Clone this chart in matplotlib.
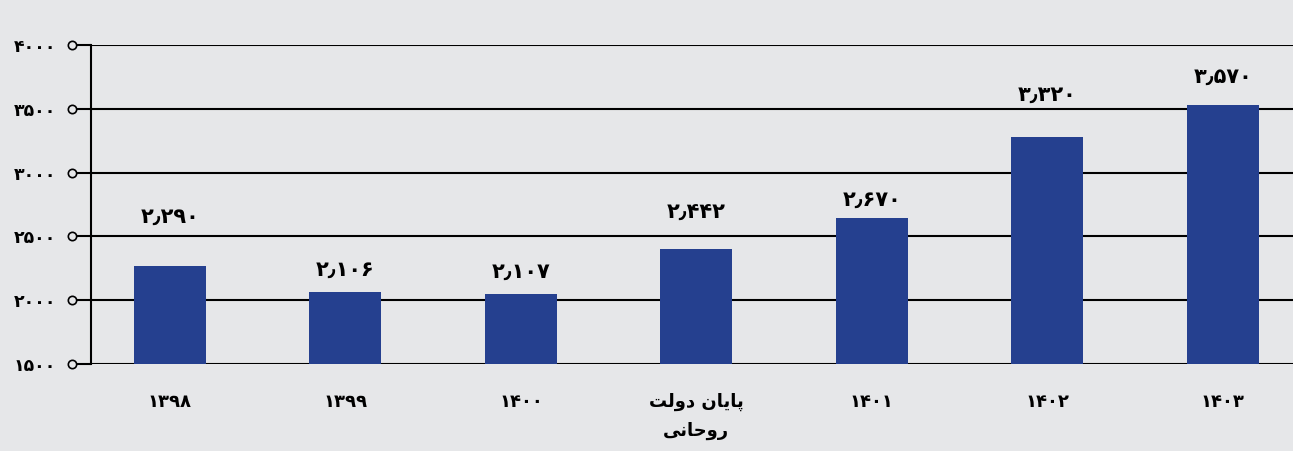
import numpy as np
import matplotlib.pyplot as plt

# data (Persian labels)
categories = ["۱۳۹۸", "۱۳۹۹", "۱۴۰۰",
              "\uFE96\uFEDF\uFEED\uFEA9 \uFEE5\uFE8E\uFBFE\uFE8E\uFB58\n\uFBFD\uFEE7\uFE8E\uFEA3\uFEED\uFEAD",
              "۱۴۰۱", "۱۴۰۲", "۱۴۰۳"]
bar_values = [2268, 2064, 2049, 2401, 2644, 3279, 3530]
value_labels = ["۲٫۲۹۰", "۲٫۱۰۶", "۲٫۱۰۷", "۲٫۴۴۲", "۲٫۶۷۰", "۳٫۳۲۰", "۳٫۵۷۰"]
label_offsets = [28, 9, 9, 19, 6, 23, 13]  # points above bar top
yticks = [1500, 2000, 2500, 3000, 3500, 4000]
ytick_labels = ["۱۵۰۰", "۲۰۰۰", "۲۵۰۰", "۳۰۰۰", "۳۵۰۰", "۴۰۰۰"]

bg = "#e6e7e9"
bar_color = "#25408f"

fig = plt.figure(figsize=(12.93, 4.51), dpi=100)
fig.patch.set_facecolor(bg)
ax = fig.add_axes([91 / 1293, 87 / 451, 1202 / 1293, 319 / 451])
ax.set_facecolor(bg)

x = np.arange(len(categories))
bars = ax.bar(x, bar_values, width=0.41, color=bar_color, zorder=3)

for xi, v, lab, off in zip(x, bar_values, value_labels, label_offsets):
    ax.annotate(lab, (xi, v), xytext=(0, off), textcoords="offset points",
                ha="center", va="bottom", fontsize=15, fontweight="bold",
                family="DejaVu Sans", color="black")

ax.set_xlim(-0.45, 6.4)
ax.set_ylim(1500, 4000)
ax.set_yticks(yticks)
ax.set_yticklabels(ytick_labels, fontsize=12.5, fontweight="bold")
ax.set_xticks(x)
ax.set_xticklabels(categories, fontsize=13, fontweight="bold", linespacing=1.75)
ax.tick_params(axis="x", length=0, pad=21)
ax.tick_params(axis="y", length=14, width=1.5, direction="out", pad=11)
ax.yaxis.grid(True, color="black", linewidth=1.5, zorder=1)
ax.set_axisbelow(True)

for s in ["top", "right", "bottom"]:
    ax.spines[s].set_visible(False)
ax.spines["left"].set_linewidth(1.5)
ax.spines["left"].set_zorder(2)

# hollow circles at the end of y ticks
ax.plot([-19 / 1202] * len(yticks), yticks, "o", ms=6, mfc=bg, mec="black",
        mew=1.2, transform=ax.get_yaxis_transform(), clip_on=False, zorder=4)

fig.savefig("out.png", dpi=100, facecolor=bg)
